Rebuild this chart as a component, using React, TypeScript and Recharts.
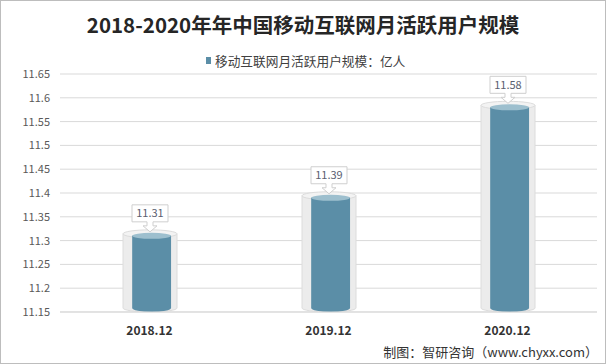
import React from 'react';
import { BarChart, Bar, XAxis, YAxis, CartesianGrid, LabelList } from 'recharts';

const categories = ['2018.12', '2019.12', '2020.12'];
const activeUsers = [11.31, 11.39, 11.58];
const yTicks = [11.15, 11.2, 11.25, 11.3, 11.35, 11.4, 11.45, 11.5, 11.55, 11.6, 11.65];

const data = categories.map((month, i) => ({ month, users: activeUsers[i] }));

const FONT = '"Noto Sans CJK SC", "Noto Sans", sans-serif';

const Cylinder = (props: any) => {
  const { x, y, width, height } = props;
  const ry = 4;
  const bottom = y + height - ry;
  const oy = y - 2;
  const ix = x + width * 0.17;
  const iw = width * 0.72;
  return (
    <g>
      <path
        d={`M${x},${oy} L${x},${bottom} A${width / 2},${ry} 0 0 0 ${x + width},${bottom} L${x + width},${oy} Z`}
        fill="#ececec"
        stroke="#dcdcdc"
      />
      <ellipse cx={x + width / 2} cy={oy} rx={width / 2} ry={ry} fill="#f3f3f3" stroke="#dcdcdc" />
      <path
        d={`M${ix},${y} L${ix},${bottom} A${iw / 2},${ry} 0 0 0 ${ix + iw},${bottom} L${ix + iw},${y} Z`}
        fill="#5b8ea7"
      />
      <ellipse cx={ix + iw / 2} cy={y} rx={iw / 2} ry={ry - 1} fill="#9dbfce" />
    </g>
  );
};

const Callout = (props: any) => {
  const { x, y, width, value } = props;
  const cx = x + width / 2;
  const tip = y - 4;
  const b = y - 14;
  const t = y - 31;
  const l = cx - 18;
  const r = cx + 18;
  const d = `M${l},${t} H${r} V${b} H${cx + 3} V${b + 4} H${cx + 7} L${cx},${tip} L${cx - 7},${b + 4} H${cx - 3} V${b} H${l} Z`;
  return (
    <g>
      <path d={d} fill="#ffffff" stroke="#cfcfcf" />
      <text x={cx} y={t + 12.5} textAnchor="middle" fontSize={11} fill="#5a6070" fontFamily={FONT}>
        {value}
      </text>
    </g>
  );
};

export default function App() {
  return (
    <div style={{ position: 'relative', width: 606, height: 364, background: '#fff', fontFamily: FONT }}>
      <style>{`body{margin:0}`}</style>
      <div
        style={{
          position: 'absolute', top: 11, left: 0, width: 606, textAlign: 'center',
          fontSize: 20.5, fontWeight: 'bold', lineHeight: '26px', color: '#262626',
        }}
      >
        2018-2020年年中国移动互联网月活跃用户规模
      </div>
      <div
        style={{
          position: 'absolute', top: 52, left: 206, height: 16, display: 'flex',
          alignItems: 'center', fontSize: 12.7, color: '#404040',
        }}
      >
        <span style={{ display: 'inline-block', width: 5, height: 7, background: '#5b8ea7', marginRight: 4 }} />
        移动互联网月活跃用户规模：亿人
      </div>
      <div style={{ position: 'absolute', left: 0, top: 0 }}>
        <BarChart width={606} height={364} data={data} margin={{ top: 74, right: 9, bottom: 22, left: 0 }}>
          <CartesianGrid vertical={false} stroke="#d9d9d9" />
          <XAxis
            dataKey="month"
            height={30}
            tickLine={false}
            tickMargin={8}
            axisLine={{ stroke: '#d9d9d9' }}
            tick={{ fontSize: 12, fontWeight: 'bold', fill: '#333333', fontFamily: FONT }}
          />
          <YAxis
            width={60}
            domain={[11.15, 11.65]}
            ticks={yTicks}
            allowDataOverflow
            axisLine={false}
            tickLine={false}
            tickMargin={4}
            tickFormatter={(v: number) => String(+v.toFixed(2))}
            tick={{ fontSize: 11, fill: '#595959', fontFamily: FONT }}
          />
          <Bar dataKey="users" barSize={54} shape={<Cylinder />} isAnimationActive={false}>
            <LabelList dataKey="users" content={<Callout />} />
          </Bar>
        </BarChart>
      </div>
      <div
        style={{
          position: 'absolute', right: 8, top: 343, fontSize: 13, lineHeight: '18px', color: '#333333',
        }}
      >
        制图：智研咨询（www.chyxx.com）
      </div>
      <div
        style={{
          position: 'absolute', left: 0, top: 0, width: 606, height: 364,
          border: '1px solid #bdbdbd', boxSizing: 'border-box', pointerEvents: 'none',
        }}
      />
    </div>
  );
}
